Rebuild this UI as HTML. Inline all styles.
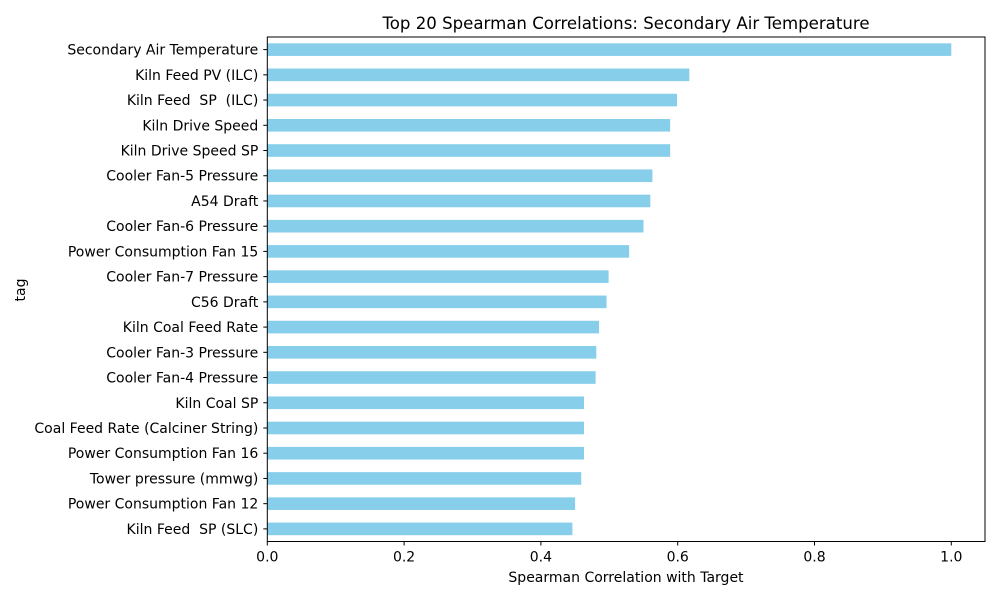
<!DOCTYPE html>
<html><head><meta charset="utf-8"><style>
body{margin:0;background:#fff;font-family:"DejaVu Sans","Liberation Sans",sans-serif;}
svg text{font-family:"DejaVu Sans","Liberation Sans",sans-serif;fill:#000;white-space:pre;}
</style></head><body>
<svg id="chart" width="1000" height="600" xmlns="http://www.w3.org/2000/svg">
<text x="626" y="29" font-size="16.6" text-anchor="middle">Top 20 Spearman Correlations: Secondary Air Temperature</text>
<text x="626" y="582" font-size="14" text-anchor="middle">Spearman Correlation with Target</text>
<text x="25" y="290" font-size="14" text-anchor="middle" transform="rotate(-90 25 290)">tag</text>
<g id="bars"></g><g id="axes"></g>
</svg>
<script>
const categories = ["Secondary Air Temperature","Kiln Feed PV (ILC)","Kiln Feed  SP  (ILC)","Kiln Drive Speed","Kiln Drive Speed SP","Cooler Fan-5 Pressure","A54 Draft","Cooler Fan-6 Pressure","Power Consumption Fan 15","Cooler Fan-7 Pressure","C56 Draft","Kiln Coal Feed Rate","Cooler Fan-3 Pressure","Cooler Fan-4 Pressure","Kiln Coal SP","Coal Feed Rate (Calciner String)","Power Consumption Fan 16","Tower pressure (mmwg)","Power Consumption Fan 12","Kiln Feed  SP (SLC)"];
const values = [1.0,0.617,0.599,0.589,0.589,0.563,0.560,0.550,0.529,0.499,0.496,0.485,0.481,0.480,0.463,0.463,0.463,0.459,0.450,0.446];
const xTicks = [0,0.2,0.4,0.6,0.8,1.0];
const tickLabels = ["0.0","0.2","0.4","0.6","0.8","1.0"];
const L=267.3,R=985,T=37,B=541.5,XMAX=(R-L)/684;
const xs=v=>L+v/XMAX*(R-L);
const step=(B-T)/categories.length;
const yc=i=>T+step*(i+0.5);
const NS="http://www.w3.org/2000/svg";
function mk(tag,attrs,parent,txt){const e=document.createElementNS(NS,tag);for(const k in attrs)e.setAttribute(k,attrs[k]);if(txt!==undefined)e.textContent=txt;parent.appendChild(e);return e;}
const bars=document.getElementById('bars'),axes=document.getElementById('axes');
values.forEach((v,i)=>{
 const r=mk('rect',{x:L,y:yc(i)-step/4,width:xs(v)-L,height:step/2,fill:'#87ceeb'},bars);
 
 
 mk('line',{x1:L,x2:L-4,y1:yc(i),y2:yc(i),stroke:'#000','stroke-width':1},axes);
 const t=mk('text',{x:L-9,y:yc(i)+5,'font-size':14,'text-anchor':'end'},axes,categories[i]);
 
 
});
xTicks.forEach((v,i)=>{
 mk('line',{x1:xs(v),x2:xs(v),y1:B,y2:B+4,stroke:'#000','stroke-width':1},axes);
 const t=mk('text',{x:xs(v),y:B+20,'font-size':14,'text-anchor':'middle'},axes,tickLabels[i]);
 
 
});
const fr=mk('rect',{x:L,y:T,width:R-L,height:B-T,fill:'none',stroke:'#000','stroke-width':1},axes);


</script>
</body></html>
